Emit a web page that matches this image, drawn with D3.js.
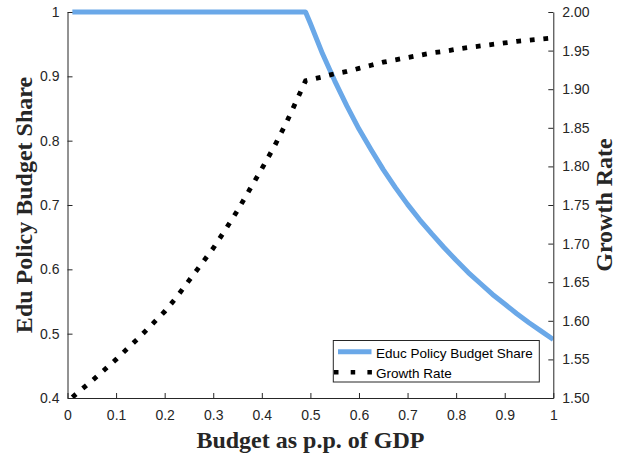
<!DOCTYPE html>
<html>
<head>
<meta charset="utf-8">
<script src="https://cdn.jsdelivr.net/npm/d3@7"></script>
<style>
  html, body { margin: 0; padding: 0; background: #fff; }
  svg { display: block; }
</style>
</head>
<body>
<svg id="chart" width="618" height="457"></svg>
<script>
// ---- data ----
const budget = [0.01, 0.025, 0.05, 0.075, 0.10, 0.125, 0.15, 0.175, 0.20, 0.225, 0.25, 0.275, 0.30, 0.325, 0.35, 0.375, 0.40, 0.425, 0.45, 0.475, 0.49,
                0.50, 0.525, 0.55, 0.575, 0.60, 0.625, 0.65, 0.675, 0.70, 0.725, 0.75, 0.775, 0.80, 0.825, 0.85, 0.875, 0.90, 0.925, 0.95, 0.975, 1.00];
const eduShare = [1, 1, 1, 1, 1, 1, 1, 1, 1, 1, 1, 1, 1, 1, 1, 1, 1, 1, 1, 1, 1,
                  0.982, 0.935, 0.893, 0.854, 0.818, 0.786, 0.755, 0.727, 0.701, 0.677, 0.655, 0.634, 0.614, 0.595, 0.578, 0.561, 0.546, 0.531, 0.517, 0.504, 0.491];
const growthRate = [1.501, 1.509, 1.522, 1.536, 1.550, 1.565, 1.580, 1.596, 1.612, 1.631, 1.652, 1.673, 1.694, 1.718, 1.743, 1.770, 1.797, 1.825, 1.856, 1.890, 1.911,
                    1.9125, 1.916, 1.920, 1.923, 1.927, 1.931, 1.935, 1.938, 1.941, 1.944, 1.947, 1.949, 1.9517, 1.954, 1.956, 1.958, 1.960, 1.962, 1.9635, 1.965, 1.9665];
const xTicks = [0, 0.1, 0.2, 0.3, 0.4, 0.5, 0.6, 0.7, 0.8, 0.9, 1];
const xTickLabels = ["0", "0.1", "0.2", "0.3", "0.4", "0.5", "0.6", "0.7", "0.8", "0.9", "1"];
const yLeftTicks = [0.4, 0.5, 0.6, 0.7, 0.8, 0.9, 1];
const yLeftTickLabels = ["0.4", "0.5", "0.6", "0.7", "0.8", "0.9", "1"];
const yRightTicks = [1.50, 1.55, 1.60, 1.65, 1.70, 1.75, 1.80, 1.85, 1.90, 1.95, 2.00];
const yRightTickLabels = ["1.50", "1.55", "1.60", "1.65", "1.70", "1.75", "1.80", "1.85", "1.90", "1.95", "2.00"];
const seriesNames = ["Educ Policy Budget Share", "Growth Rate"];
const titles = { x: "Budget as p.p. of GDP", yLeft: "Edu Policy Budget Share", yRight: "Growth Rate" };

// ---- layout ----
const L = 67.5, R = 553.3, T = 12, B = 398;
const axisColor = "#262626";
const blue = "rgb(106,168,232)";
const sansFont = "'Liberation Sans', Arial, Helvetica, sans-serif";
const serifFont = "'Liberation Serif', 'Times New Roman', serif";

const svg = d3.select("#chart");
const x = d3.scaleLinear().domain([0, 1]).range([L, R]);
const yL = d3.scaleLinear().domain([0.4, 1]).range([B, T]);
const yR = d3.scaleLinear().domain([1.5, 2]).range([B, T]);

const clipId = "plotclip";
svg.append("defs").append("clipPath").attr("id", clipId)
  .append("rect").attr("x", L).attr("y", T - 4).attr("width", R - L).attr("height", B - T + 4);

const pts = budget.map((b, i) => ({ b, s: eduShare[i], g: growthRate[i] }));

const plot = svg.append("g").attr("clip-path", `url(#${clipId})`);

plot.append("path")
  .datum(pts)
  .attr("fill", "none")
  .attr("stroke", blue)
  .attr("stroke-width", 5)
  .attr("stroke-linejoin", "round")
  .attr("d", d3.line().x(d => x(d.b)).y(d => yL(d.s)));

plot.append("path")
  .datum(pts)
  .attr("fill", "none")
  .attr("stroke", "#000")
  .attr("stroke-width", 4.8)
  .attr("stroke-dasharray", "4.8 8.8")
  .attr("stroke-linecap", "butt")
  .attr("d", d3.line().x(d => x(d.b)).y(d => yR(d.g)));

// ---- axes ----
function styleAxis(g) {
  g.select(".domain").attr("stroke", axisColor).attr("stroke-width", 1);
  g.selectAll(".tick line").attr("stroke", axisColor);
  g.selectAll(".tick text")
    .attr("fill", axisColor)
    .style("font-family", sansFont)
    .style("font-size", "14px");
}

const xAxis = svg.append("g")
  .attr("transform", `translate(0,${B})`)
  .call(d3.axisBottom(x).tickValues(xTicks).tickFormat((d, i) => xTickLabels[i])
    .tickSizeInner(-5).tickSizeOuter(0).tickPadding(12));
styleAxis(xAxis);

const yLeftAxis = svg.append("g")
  .attr("transform", `translate(${L},0)`)
  .call(d3.axisLeft(yL).tickValues(yLeftTicks).tickFormat((d, i) => yLeftTickLabels[i])
    .tickSizeInner(-5).tickSizeOuter(0).tickPadding(8));
styleAxis(yLeftAxis);

const yRightAxis = svg.append("g")
  .attr("transform", `translate(${R},0)`)
  .call(d3.axisRight(yR).tickValues(yRightTicks).tickFormat((d, i) => yRightTickLabels[i])
    .tickSizeInner(-5).tickSizeOuter(0).tickPadding(9));
styleAxis(yRightAxis);

// ---- titles ----
svg.append("text")
  .attr("x", (L + R) / 2).attr("y", 448)
  .attr("text-anchor", "middle")
  .attr("fill", axisColor)
  .style("font-family", serifFont).style("font-weight", "bold").style("font-size", "24px")
  .text(titles.x);

svg.append("text")
  .attr("transform", `translate(31.5,${(T + B) / 2}) rotate(-90)`)
  .attr("text-anchor", "middle")
  .attr("fill", axisColor)
  .style("font-family", serifFont).style("font-weight", "bold").style("font-size", "24px")
  .text(titles.yLeft);

svg.append("text")
  .attr("transform", `translate(612.3,${(T + B) / 2}) rotate(-90)`)
  .attr("text-anchor", "middle")
  .attr("fill", axisColor)
  .style("font-family", serifFont).style("font-weight", "bold").style("font-size", "24px")
  .text(titles.yRight);

// ---- legend ----
const lg = svg.append("g");
lg.append("rect")
  .attr("x", 333.3).attr("y", 340.5).attr("width", 206).attr("height", 41.5)
  .attr("fill", "#fff").attr("stroke", axisColor).attr("stroke-width", 1);
lg.append("line")
  .attr("x1", 338).attr("x2", 371.5).attr("y1", 351.7).attr("y2", 351.7)
  .attr("stroke", blue).attr("stroke-width", 5);
lg.append("line")
  .attr("x1", 334).attr("x2", 372).attr("y1", 372.3).attr("y2", 372.3)
  .attr("stroke", "#000").attr("stroke-width", 4.5)
  .attr("stroke-dasharray", "4.5 12.2");
lg.selectAll("text.leg").data(seriesNames).enter().append("text")
  .attr("class", "leg")
  .attr("x", 376).attr("y", (d, i) => 357.5 + i * 20.3)
  .attr("fill", "#000")
  .style("font-family", sansFont).style("font-size", "13.5px")
  .text(d => d);
</script>
</body>
</html>
